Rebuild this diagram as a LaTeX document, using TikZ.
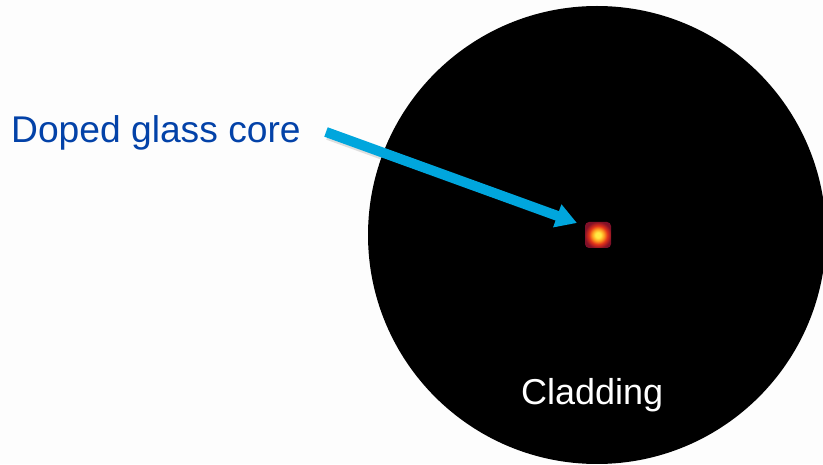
\documentclass[tikz,border=0pt]{standalone}
\usepackage{fontspec}
\setmainfont{Liberation Sans}
\usetikzlibrary{arrows.meta}
\definecolor{bgc}{HTML}{FDFDFD}
\definecolor{labelblue}{HTML}{0342A8}
\definecolor{arrowblue}{HTML}{00A6DD}
\definecolor{cyel}{HTML}{FFEA45}
\definecolor{corg}{HTML}{FFA020}
\definecolor{cred}{HTML}{E0301A}
\definecolor{cdark}{HTML}{801028}
\pgfdeclareradialshading{coreglow}{\pgfpoint{0bp}{0bp}}{%
  color(0bp)=(cyel); color(5bp)=(cyel); color(11bp)=(corg);
  color(18bp)=(cred); color(26bp)=(cdark); color(36bp)=(cdark); color(50bp)=(cdark)}
\tikzset{
  txt/.style={inner sep=0pt, anchor=base west},
  fibre/.style={circle, fill=black, inner sep=0pt, minimum size=458pt},
  corebox/.style={rectangle, rounded corners=4pt, inner sep=0pt, minimum size=26pt, shading=coreglow},
  pointer/.style={line width=10pt, color=arrowblue, -{Triangle[length=21pt,width=23pt]}}
}
\begin{document}
\begin{tikzpicture}[x=1pt,y=1pt]
\useasboundingbox (0,0) rectangle (823,464);
\fill[bgc] (0,0) rectangle (823,464);
\begin{scope}
\clip (0,0) rectangle (823,464);
\node[fibre] (cladding) at (597,229) {};
\end{scope}
\node[corebox] (core) at (598,229) {};
\node[txt, text=labelblue, font=\fontsize{37.2}{42}\selectfont] (label) at (11,321) {Doped glass core};
\node[txt, text=white, font=\fontsize{36}{40}\selectfont] (cladlabel) at (521,59) {Cladding};
\coordinate (tail) at (326,332);
\coordinate (tip) at (577,241);
\draw[line width=10pt, color=black, opacity=0.12, -{Triangle[length=21pt,width=23pt]}] ([shift={(2,-3)}]tail) -- ([shift={(2,-3)}]tip);
\draw[pointer] (tail) -- (tip);
\end{tikzpicture}
\end{document}
